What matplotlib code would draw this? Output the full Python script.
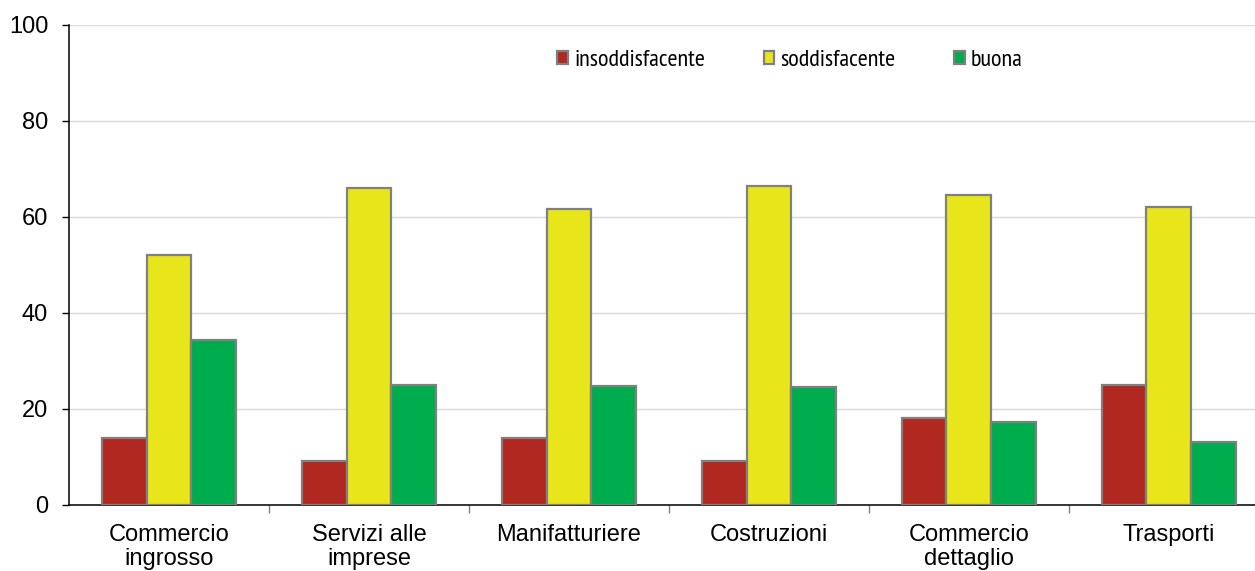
import matplotlib.pyplot as plt
from matplotlib import font_manager
import numpy as np

plt.rcParams['font.family'] = ['Liberation Sans', 'DejaVu Sans']

categories = ["Commercio\ningrosso", "Servizi alle\nimprese", "Manifatturiere",
              "Costruzioni", "Commercio\ndettaglio", "Trasporti"]
series_names = ["insoddisfacente", "soddisfacente", "buona"]
insoddisfacente = [14.0, 9.2, 14.0, 9.2, 18.1, 25.0]
soddisfacente = [52.0, 66.0, 61.5, 66.3, 64.6, 62.1]
buona = [34.3, 25.0, 24.8, 24.5, 17.3, 13.1]
colors = ["#b0281f", "#e8e61a", "#00ad4e"]

# legend in the reference uses a narrow face
installed = {f.name for f in font_manager.fontManager.ttflist}
narrow = [n for n in ["Liberation Sans Narrow", "Arial Narrow", "PT Sans Narrow",
                      "Roboto Condensed", "Archivo Narrow"] if n in installed]
if narrow:
    leg_font = {"family": narrow[0], "size": 17.5}
else:
    leg_font = {"family": "Liberation Sans", "size": 14}

fig = plt.figure(figsize=(12.55, 5.71), dpi=100)
ax = fig.add_axes([0.055, 0.116, 0.956, 0.841])

x = np.arange(len(categories))
w = 0.224
for i, (vals, name) in enumerate(zip([insoddisfacente, soddisfacente, buona], series_names)):
    ax.bar(x + (i - 1) * w, vals, width=w, color=colors[i], edgecolor="#808080",
           linewidth=1.6, label=name, zorder=3)

ax.set_xlim(-0.5, len(categories) - 0.5)
ax.set_ylim(0, 100)
ax.set_yticks(range(0, 101, 20))
ax.yaxis.grid(True, color="#d9d9d9", linewidth=1, zorder=0)
ax.set_axisbelow(True)

ax.set_xticks(x)
ax.set_xticklabels(categories, fontsize=17, linespacing=1.12)
ax.tick_params(axis="x", which="major", length=0, pad=13.5)
ax.set_xticks(np.arange(0.5, len(categories) - 0.5, 1), minor=True)
ax.tick_params(axis="x", which="minor", length=6, color="#808080", width=1)
ax.tick_params(axis="y", labelsize=17, length=5, width=1, pad=10)

for s in ["top", "right"]:
    ax.spines[s].set_visible(False)
for s in ["left", "bottom"]:
    ax.spines[s].set_linewidth(1.1)

leg = ax.legend(loc="center left", bbox_to_anchor=(0.407, 0.925), ncol=3, frameon=False,
                prop=leg_font, handlelength=0.45, handleheight=0.45, handletextpad=0.25,
                columnspacing=2.4, borderpad=0, borderaxespad=0)

fig.savefig("out.png", dpi=100)
